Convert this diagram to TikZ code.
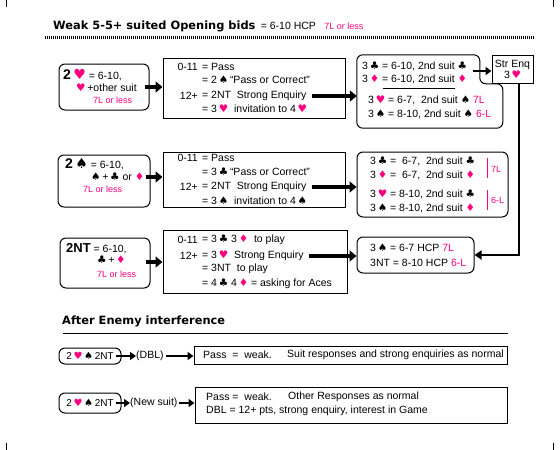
\documentclass[tikz,border=0pt]{standalone}
\usepackage{fontspec}
\setmainfont{Liberation Sans}
\newfontfamily\suitfont{DejaVu Sans}
\newfontfamily\headfont{DejaVu Sans}
\usepackage{xcolor}
\usetikzlibrary{arrows.meta,calc,positioning}

\definecolor{hotpink}{RGB}{255,0,128}
\newcommand{\SuitH}{{\suitfont\color{hotpink}♥}}
\newcommand{\SuitD}{{\suitfont\color{hotpink}♦}}
\newcommand{\SuitC}{{\suitfont ♣}}
\newcommand{\SuitS}{{\suitfont ♠}}
\newcommand{\pk}[1]{\textcolor{hotpink}{#1}}

\tikzset{
  opbox/.style={draw,rounded corners=6pt,line width=1pt,inner sep=0},
  ansbox/.style={draw,line width=1pt,inner sep=0},
  txt/.style={anchor=west,inner sep=0},
  lbl/.style={anchor=east,inner sep=0},
  pinktxt/.style={txt,text=hotpink,font=\fontsize{9}{10}\selectfont},
  fatarrow/.style={line width=3.5pt,-{Triangle[length=7pt,width=11pt]}},
  thinarrow/.style={line width=2pt,-{Triangle[length=6pt,width=8pt]}},
  link/.style={line width=2pt,-{Triangle[length=7pt,width=9pt]}},
  head/.style={anchor=west,inner sep=0,font=\headfont\fontsize{11.4}{14}\selectfont\bfseries}
}

\begin{document}
\begin{tikzpicture}[x=1pt,y=-1pt,font=\fontsize{10.5}{12}\selectfont]
  \fill[white] (0,0) rectangle (560,450);
  \useasboundingbox (0,0) rectangle (560,450);
  \draw[line width=1pt] (6,0) -- (6,7) (553,0) -- (553,7) (6,443) -- (6,450) (553,443) -- (553,450);

  % heading
  \node[head] (title) at (53,26) {Weak 5-5+ suited Opening bids};
  \node[txt,right=5pt of title] (hcp) {= 6-10 HCP};
  \node[pinktxt,right=8pt of hcp] (len) {7L or less};
  \draw[line width=3pt,dash pattern=on 1pt off 1pt] (45,37) -- (535,37);

  % row 1: 2 hearts
  \node[opbox,minimum width=90,minimum height=46] (op1) at (104,87) {};
  \node[txt] at (63,75) {{\fontsize{14}{14}\selectfont\bfseries 2\,\SuitH} = 6-10,};
  \node[txt] at (76,88) {\SuitH\,+other suit};
  \node[pinktxt] at (93,100) {7L or less};

  \node[ansbox,minimum width=182,minimum height=60] (mid1) at (254,88) {};
  \node[lbl] at (198,67) {0-11};
  \node[txt] at (202,67) {= Pass};
  \node[txt] at (202,80) {= 2\,\SuitS\,“Pass or Correct”};
  \node[lbl] at (198,96) {12+};
  \node[txt] (enq1) at (202,96) {= 2NT\ \ Strong Enquiry};
  \node[txt] at (202,109) {= 3\,\SuitH\ \ invitation to 4\,\SuitH};

  \node[inner sep=0,minimum width=146,minimum height=73] (res1) at (430,91.5) {};
  \draw[line width=1pt,rounded corners=6pt] (res1.north west) -- ++(123,0) -- ++(0,29) -- ++(23,0) |- (res1.south west) -- cycle;
  \node[txt] at (362,66) {3\,\SuitC\ = 6-10,\ 2nd suit \SuitC};
  \node[txt] at (362,79) {3\,\SuitD\ = 6-10,\ 2nd suit \SuitD};
  \draw[line width=1pt] (383,88) -- (455,88);
  \node[txt] at (368,100) {3\,\SuitH\ =\ 6-7,\ \ 2nd suit \SuitS\ \pk{7L}};
  \node[txt] at (368,114) {3\,\SuitS\ = 8-10,\ 2nd suit \SuitS\ \pk{6-L}};

  \node[ansbox,minimum width=41,minimum height=28,align=center,inner sep=2pt] (seq) at (512.5,69) {Str Enq\\[-1pt]3\,\SuitH};
  \coordinate (c1) at (473,71);
  \draw[thinarrow] (c1) -- (c1 -| seq.west);

  \draw[fatarrow] ([xshift=-5pt]op1.east) -- (op1.east -| mid1.west);
  \draw[fatarrow] ([xshift=5pt]enq1.east) -- (enq1.east -| res1.west);

  % row 2: 2 spades
  \node[opbox,minimum width=92,minimum height=52] (op2) at (104,181) {};
  \node[txt] at (65,164) {{\fontsize{14}{14}\selectfont\bfseries 2\,\SuitS} = 6-10,};
  \node[txt] at (91,177) {\SuitS\,+\,\SuitC\ or \SuitD};
  \node[pinktxt] at (83,189) {7L or less};

  \node[ansbox,minimum width=182,minimum height=55] (mid2) at (254,179.5) {};
  \node[lbl] at (198,158) {0-11};
  \node[txt] at (202,158) {= Pass};
  \node[txt] at (202,172) {= 3\,\SuitC\,“Pass or Correct”};
  \node[lbl] at (198,187) {12+};
  \node[txt] (enq2) at (202,187) {= 2NT\ \ Strong Enquiry};
  \node[txt] at (202,201) {= 3\,\SuitS\ \ invitation to 4\,\SuitS};

  \node[opbox,minimum width=151,minimum height=65] (res2) at (432.5,184.5) {};
  \node[txt] at (370,161) {3\,\SuitC\ =\ \ 6-7,\ \ 2nd suit \SuitC};
  \node[txt] at (370,175) {3\,\SuitD\ =\ \ 6-7,\ \ 2nd suit \SuitD};
  \node[txt] at (370,194) {3\,\SuitH\ = 8-10,\ 2nd suit \SuitC};
  \node[txt] at (370,208) {3\,\SuitS\ = 8-10,\ 2nd suit \SuitD};
  \draw[hotpink,line width=1pt] (487,158) -- (487,178) (487,190) -- (487,210);
  \node[pinktxt] at (491,169) {7L};
  \node[pinktxt] at (491,200) {6-L};

  \coordinate (a2) at ($(op2.east)+(-5,-4)$);
  \draw[fatarrow] (a2) -- (a2 -| mid2.west);
  \draw[fatarrow] ([xshift=5pt]enq2.east) -- (enq2.east -| res2.west);

  % row 3: 2NT
  \node[opbox,minimum width=90,minimum height=50] (op3) at (105,263) {};
  \node[txt] at (66,249) {{\fontsize{13}{14}\selectfont\bfseries 2NT} = 6-10,};
  \node[txt] at (97,260) {\SuitC\,+\,\SuitD};
  \node[pinktxt] at (97,274) {7L or less};

  \node[ansbox,minimum width=184,minimum height=63] (mid3) at (255,261.5) {};
  \node[lbl] at (198,240) {0-11};
  \node[txt] at (202,240) {= 3\,\SuitC\ 3\,\SuitD\ \ to play};
  \node[lbl] at (198,256) {12+};
  \node[txt] (enq3) at (202,256) {= 3\,\SuitH\ \ Strong Enquiry};
  \node[txt] at (202,269) {= 3NT\ \ to play};
  \node[txt] at (202,284) {= 4\,\SuitC\ 4\,\SuitD\ = asking for Aces};

  \node[opbox,minimum width=117,minimum height=36] (res3) at (415.5,255) {};
  \node[txt] at (370,248) {3\,\SuitS\ = 6-7 HCP \pk{7L}};
  \node[txt] at (370,263) {3NT = 8-10 HCP \pk{6-L}};

  \coordinate (a3) at ($(op3.east)+(-5,-1)$);
  \draw[fatarrow] (a3) -- (a3 -| mid3.west);
  \draw[fatarrow] ([xshift=5pt]enq3.east) -- (enq3.east -| res3.west);
  \draw[link] ([xshift=6.5pt]seq.south) |- (res3.east);

  % interference
  \node[head] (enemy) at (62,321) {After Enemy interference};
  \draw[line width=1pt] (63,333) -- (508,333);

  \node[opbox,minimum width=62,minimum height=16,font=\fontsize{10}{12}\selectfont] (int1) at (90,356) {2\,\SuitH\,\SuitS\,2NT};
  \node[txt] (dbl) at (136,356) {(DBL)};
  \node[ansbox,minimum width=313,minimum height=18] (nor1) at (350.5,355) {};
  \node[txt] at (203,355) {Pass\ \ =\ \ weak.};
  \node[txt] at (287,355) {Suit responses and strong enquiries as normal};
  \draw[thinarrow] ([xshift=-6pt]int1.east) -- (dbl.west);
  \draw[thinarrow] ([xshift=2pt]dbl.east) -- (dbl.east -| nor1.west);

  \node[opbox,minimum width=62,minimum height=20,font=\fontsize{10}{12}\selectfont] (int2) at (90,403) {2\,\SuitH\,\SuitS\,2NT};
  \node[txt] (nsuit) at (130,403) {(New suit)};
  \node[ansbox,minimum width=312,minimum height=36] (nor2) at (351,405) {};
  \node[txt] at (206,397) {Pass =\ \ weak.};
  \node[txt] at (288,397) {Other Responses as normal};
  \node[txt] at (206,411) {DBL = 12+ pts, strong enquiry, interest in Game};
  \draw[thinarrow] ([xshift=-6pt]int2.east) -- (nsuit.west);
  \draw[thinarrow] ([xshift=1pt]nsuit.east) -- (nsuit.east -| nor2.west);
\end{tikzpicture}
\end{document}
